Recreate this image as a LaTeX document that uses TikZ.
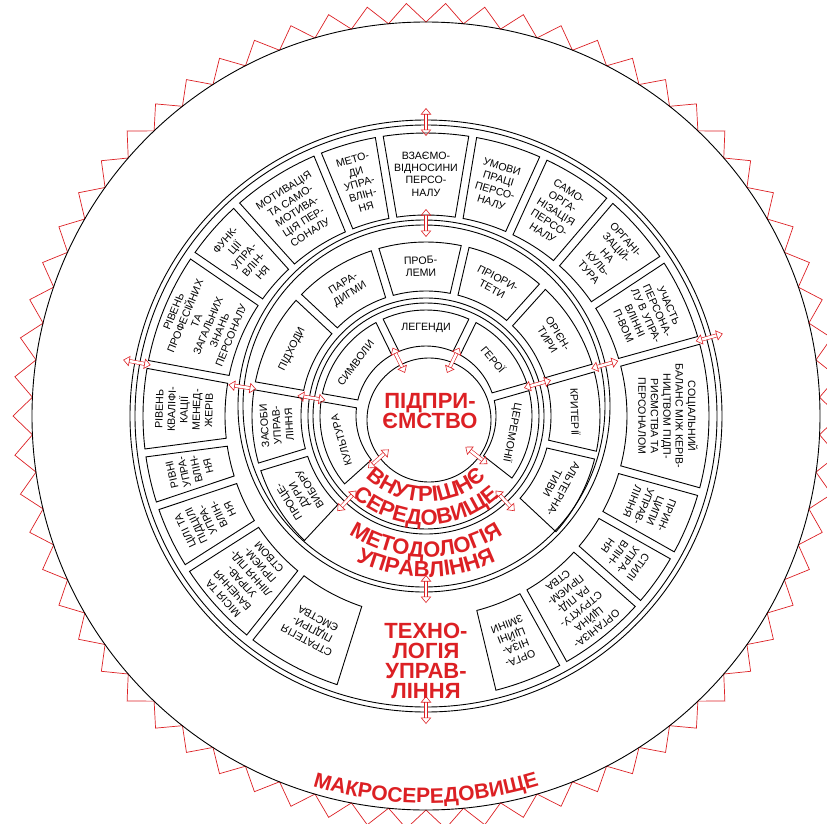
\documentclass[tikz,border=0pt]{standalone}
\usepackage{fontspec}
\setmainfont{Liberation Sans}
\usetikzlibrary{arrows.meta,decorations.text}
\definecolor{mred}{RGB}{220,32,36}
\tikzset{
    ringline/.style={draw=black, line width=0.9pt},
    secbox/.style={draw=black, line width=0.9pt},
    lbl/.style={font=\fontsize{10.6}{12.4}\selectfont, align=center, inner sep=0pt},
    bigred/.style={font=\fontsize{22}{20}\selectfont\bfseries, text=mred, align=center, inner sep=0pt},
    dblarrow/.style={draw=mred, double=white, double distance=2.6pt, line width=0.6pt,
        {Triangle[open,length=6.5pt,width=10.5pt]}-{Triangle[open,length=6.5pt,width=10.5pt]}},
    zig/.style={draw=mred, line width=0.7pt},
}
% sector box: inner radius, outer radius, start angle, end angle
\newcommand\secbox[4]{%
    \pgfmathsetmacro\dI{4/#1*57.2958}%
    \pgfmathsetmacro\dO{4/#2*57.2958}%
    \draw[secbox] ({#3+\dI}:#1) -- ({#3+\dO}:#2)
        arc[start angle={#3+\dO}, end angle={#4-\dO}, radius=#2]
        -- ({#4-\dI}:#1)
        arc[start angle={#4-\dI}, end angle={#3+\dI}, radius=#1] -- cycle;
}

\begin{document}
\begin{tikzpicture}[x=1pt,y=1pt]
    \useasboundingbox (-426,-407) rectangle (401,416);
    \clip (-426,-407) rectangle (401,416);

    % macro environment
    \draw[zig] (0:413) \foreach \i in {0,...,65} {
        -- ({(\i+0.5)*5.454545}:394) -- ({(\i+1)*5.454545}:413) } -- cycle;
    \draw[ringline] (0,0) circle[radius=394];

    % rings
    \foreach \r in {296,291,118,113}
        \draw[ringline] (0,0) circle[radius=\r];
    \foreach \r in {186,181}
        \draw[ringline] (-2,10) circle[radius=\r];
    \draw[ringline] (3,-4) circle[radius=62];

    % outer ring
    \foreach \a/\b/\t [count=\i] in {
        -76.5/-61/{ОРГА-\\НІЗА-\\ЦІЙНІ\\ЗМІНИ},
        -61/-41.5/{ОРГАНІЗА-\\ЦІЙНА\\СТРУКТУ-\\РА ПІД-\\ПРИЄМ-\\СТВА},
        -41.5/-29.5/{СТИЛІ\\УПРА-\\ВЛІН-\\НЯ},
        -29.5/-15.5/{ПРИН-\\ЦИПИ\\УПРАВ-\\ЛІННЯ},
        -15.5/15.5/{СОЦІАЛЬНИЙ\\БАЛАНС МІЖ КЕРІВ-\\НИЦТВОМ ПІДП-\\РИЄМСТВА ТА\\ПЕРСОНАЛОМ},
        15.5/33.5/{УЧАСТЬ\\ПЕРСОНА-\\ЛУ В УПРА-\\ВЛІННІ\\П-ВОМ},
        33.5/49.5/{ОРГАНІ-\\ЗАЦІЙ-\\НА\\КУЛЬ-\\ТУРА},
        49.5/65.5/{САМО-\\ОРГА-\\НІЗАЦІЯ\\ПЕРСО-\\НАЛУ},
        65.5/80.5/{УМОВИ\\ПРАЦІ\\ПЕРСО-\\НАЛУ},
        80.5/99.5/{ВЗАЄМО-\\ВІДНОСИНИ\\ПЕРСО-\\НАЛУ},
        99.5/112.5/{МЕТО-\\ДИ\\УПРА-\\ВЛІН-\\НЯ},
        112.5/132/{МОТИВАЦІЯ\\ТА САМО-\\МОТИВА-\\ЦІЯ ПЕР-\\СОНАЛУ},
        132/145.5/{ФУНК-\\ЦІЇ\\УПРА-\\ВЛІН-\\НЯ},
        145.5/169.5/{РІВЕНЬ\\ПРОФЕСІЙНИХ\\ТА\\ЗАГАЛЬНИХ\\ЗНАНЬ\\ПЕРСОНАЛУ},
        169.5/187.5/{РІВЕНЬ\\КВАЛІФІ-\\КАЦІЇ\\МЕНЕД-\\ЖЕРІВ},
        187.5/198.5/{РІВНІ\\УПРА-\\ВЛІН-\\НЯ},
        198.5/212.5/{ЦІЛІ ТА\\ПІДЦІЛІ\\УПРА-\\ВЛІН-\\НЯ},
        212.5/231.5/{МІСІЯ ТА\\БАЧЕННЯ\\УПРАВ-\\ЛІННЯ ПІД-\\ПРИЄМ-\\СТВОМ},
        231.5/252.5/{СТРАТЕГІЯ\\ПІДПРИ-\\ЄМСТВА}} {
        \secbox{201}{283}{\a}{\b}
        \pgfmathsetmacro\m{(\a+\b)/2}
        \node[lbl, rotate=\m-90] (o\i) at (\m:242) {\t};
    }

    % middle ring
    \foreach \a/\b/\t [count=\i] in {
        -43/-13/{АЛЬТЕРНА-\\ТИВИ},
        -13/16/{КРИТЕРІЇ},
        16/48/{ОРІЄН-\\ТИРИ},
        48/77/{ПРІОРИ-\\ТЕТИ},
        77/107/{ПРОБ-\\ЛЕМИ},
        107/137/{ПАРА-\\ДИГМИ},
        137/170/{ПІДХОДИ},
        170/197/{ЗАСОБИ\\УПРАВ-\\ЛІННЯ},
        197/227/{ПРОЦЕ-\\ДУРИ\\ВИБОРУ}} {
        \secbox{125}{174}{\a}{\b}
        \pgfmathsetmacro\m{(\a+\b)/2}
        \node[lbl, rotate=\m-90] (m\i) at (\m:149.5) {\t};
    }

    % inner ring
    \foreach \a/\b/\t [count=\i] in {
        -38/16/{ЦЕРЕМОНІЇ},
        16/64/{ГЕРОЇ},
        64/116/{ЛЕГЕНДИ},
        116/170/{СИМВОЛИ},
        170/222/{КУЛЬТУРА}} {
        \secbox{70}{106}{\a}{\b}
        \pgfmathsetmacro\m{(\a+\b)/2}
        \node[lbl, rotate=\m-90] (n\i) at (\m:88) {\t};
    }

    % red titles
    \node[bigred] (firm) at (4,5) {ПІДПРИ-\\ЄМСТВО};
    \node[bigred, font=\fontsize{22}{20}\selectfont\bfseries] (tech) at (0,-245)
        {ТЕХНО-\\ЛОГІЯ\\УПРАВ-\\ЛІННЯ};
    \path[decorate, decoration={text along path, text align=center, text color=mred,
        text={|\fontsize{22}{22}\selectfont\bfseries|ВНУТРІШНЄ}}]
        (215:86) arc[start angle=215, end angle=325, radius=86];
    \path[decorate, decoration={text along path, text align=center, text color=mred,
        text={|\fontsize{22}{22}\selectfont\bfseries|СЕРЕДОВИЩЕ}}]
        (215:109) arc[start angle=215, end angle=325, radius=109];
    \path[decorate, decoration={text along path, text align=center, text color=mred,
        text={|\fontsize{22}{22}\selectfont\bfseries|МЕТОДОЛОГІЯ}}]
        (220:141) arc[start angle=220, end angle=320, radius=141];
    \path[decorate, decoration={text along path, text align=center, text color=mred,
        text={|\fontsize{22}{22}\selectfont\bfseries|УПРАВЛІННЯ}}]
        (220:161) arc[start angle=220, end angle=320, radius=161];
    \path[decorate, decoration={text along path, text align=center, text color=mred,
        text={|\fontsize{21}{21}\selectfont\bfseries|МАКРОСЕРЕДОВИЩЕ}}]
        (240:387) arc[start angle=240, end angle=300, radius=387];

    % links between levels
    \foreach \A/\R [count=\k] in {90/294, 15.5/294, 169.5/294, 270/294,
        90/193, 16/186, 171/186, 270/173,
        16/116, 171/116, 227/116, 313/116,
        64/62, 116/62, 222/64, 322/64} {
        \coordinate (as\k) at (\A:\R-14);
        \coordinate (ae\k) at (\A:\R+14);
        \draw[dblarrow] (as\k) -- (ae\k);
    }
\end{tikzpicture}
\end{document}
